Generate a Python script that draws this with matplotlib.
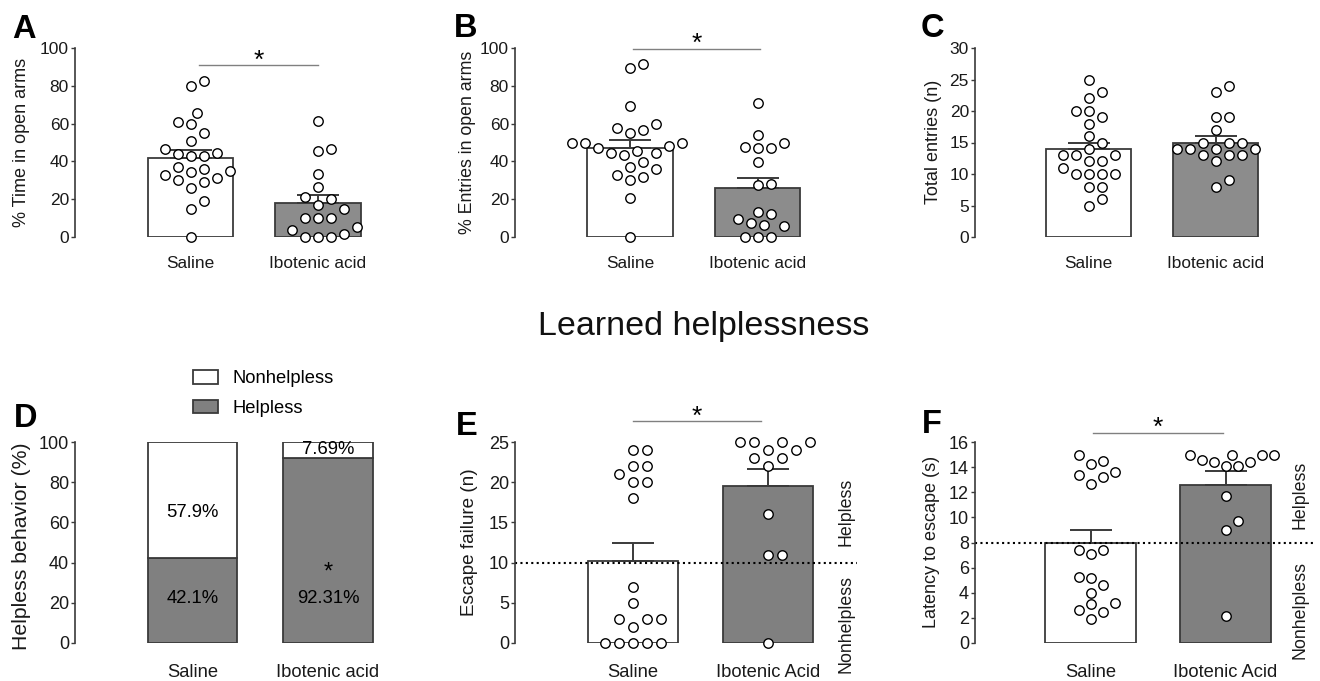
import matplotlib
matplotlib.use('Agg')
import matplotlib.pyplot as plt
import numpy as np
from matplotlib.patches import Patch

plt.rcParams['font.family'] = ['Liberation Sans', 'DejaVu Sans']

# ---------------- data ----------------
groups = ['Saline', 'Ibotenic acid']
groups_lh = ['Saline', 'Ibotenic Acid']

A_saline = [82.7, 80.1, 65.8, 60.0, 60.7, 55.2, 51.0, 46.4, 43.9, 42.7, 42.7, 44.4,
            37.0, 35.1, 34.6, 35.8, 32.6, 30.0, 29.1, 31.0, 26.1, 19.0, 15.0, 0.0]
A_ibo = [61.6, 46.4, 45.3, 33.5, 26.3, 21.0, 20.3, 15.0, 16.8, 9.9, 9.9, 10.2,
         3.7, 5.1, 0.0, 0.0, 0.0, 1.4]
A_mean = [41.6, 18.2]
A_sem = [4.3, 4.2]

B_saline = [91.4, 89.6, 69.5, 59.6, 56.4, 55.2, 57.7, 49.7, 49.7, 47.1, 48.0, 49.7,
            44.6, 43.4, 44.6, 45.7, 39.7, 37.2, 33.0, 30.3, 31.9, 35.8, 20.5, 0.0]
B_ibo = [71.1, 53.8, 47.6, 46.9, 47.3, 49.7, 39.7, 27.5, 28.2, 13.1, 9.7, 7.4,
         12.2, 6.2, 5.6, 0.0, 0.0, 0.0]
B_mean = [47.1, 25.7]
B_sem = [4.0, 5.3]

C_saline = [25, 23, 22, 20, 20, 19, 18, 16, 15, 14, 13, 13, 13, 12, 12, 11,
            10, 10, 10, 10, 8, 8, 6, 5]
C_ibo = [24, 23, 19, 19, 17, 15, 15, 15, 14, 14, 14, 14, 13, 13, 13, 12, 9, 8]
C_mean = [13.9, 15.0]
C_sem = [1.0, 1.0]

D_helpless = [42.1, 92.31]
D_nonhelpless = [57.9, 7.69]
D_legend = ['Nonhelpless', 'Helpless']

E_saline = [24, 24, 22, 22, 21, 20, 20, 18, 7, 5, 3, 3, 3, 2, 0, 0, 0, 0, 0]
E_ibo = [25, 25, 25, 25, 24, 24, 23, 23, 22, 16, 11, 11, 0]
E_mean = [10.2, 19.5]
E_sem = [2.3, 2.2]
E_threshold = 10

F_saline = [14.5, 14.24, 14.96, 13.39, 13.26, 13.6, 12.7, 7.37, 7.1, 7.37, 5.22,
            4.63, 5.14, 3.99, 3.14, 3.06, 2.61, 2.45, 1.86]
F_ibo = [14.96, 14.96, 14.46, 14.1, 14.1, 14.46, 14.6, 14.96, 14.96, 11.7, 9.69,
         8.97, 2.1]
F_mean = [7.96, 12.62]
F_sem = [1.07, 1.09]
F_threshold = 8

# ---------------- style ----------------
W, H = 1320, 681
fig = plt.figure(figsize=(W / 100, H / 100), dpi=100)
EDGE = '#3a3a3a'
FILL_TOP = '#8c8c8c'
FILL_BOT = '#808080'
PT = 0.72  # px -> pt


def make_ax(axis_x, y_top, y_bot, c0, spacing, xmax):
    xmin = -(c0 - axis_x) / spacing
    ax = fig.add_axes([axis_x / W, (H - y_bot) / H,
                       (xmax - xmin) * spacing / W, (y_bot - y_top) / H])
    ax.set_xlim(xmin, xmax)
    return ax


def style_ax(ax, ymax, yticks, xlabels, tick_fs, xlab_fs, xpad):
    ax.set_ylim(0, ymax)
    ax.set_yticks(yticks)
    for s in ('top', 'right', 'bottom'):
        ax.spines[s].set_visible(False)
    ax.spines['left'].set_color(EDGE)
    ax.spines['left'].set_linewidth(1.2)
    ax.tick_params(axis='y', direction='out', length=4 * PT, width=1.0,
                   color=EDGE, labelsize=tick_fs, pad=1.5, labelcolor='#1a1a1a')
    ax.set_xticks([0, 1])
    ax.set_xticklabels(xlabels)
    ax.tick_params(axis='x', length=0, labelsize=xlab_fs, pad=xpad,
                   labelcolor='#1a1a1a')
    ax.patch.set_alpha(0)


def swarm(ax, x0, values, dist_px, step_px):
    tr = ax.transData
    ppu = tr.transform((1, 0))[0] - tr.transform((0, 0))[0]
    ys = np.array([tr.transform((0, v))[1] for v in values])
    order = np.argsort(values, kind='stable')
    offs = np.zeros(len(values))
    placed = []
    cands = [0] + [s * j for j in range(1, 40) for s in (1, -1)]
    for i in order:
        y = ys[i]
        for c in cands:
            xo = c * step_px
            if all((xo - px) ** 2 + (y - py) ** 2 >= dist_px ** 2 for px, py in placed):
                break
        placed.append((xo, y))
        offs[i] = xo / ppu
    return x0 + offs


def bar_scatter(ax, means, sems, pts, fill, bw, cap_pt, dist_px, step_px):
    x = np.arange(2)
    ax.bar(x, means, width=bw, color=['white', fill], edgecolor=EDGE,
           linewidth=1.3, zorder=1)
    ax.errorbar(x, means, yerr=[np.zeros(2), sems], fmt='none', ecolor=EDGE,
                elinewidth=1.4, capsize=cap_pt, capthick=1.4, zorder=2)
    for xi, vals in zip(x, pts):
        xs = swarm(ax, xi, vals, dist_px, step_px)
        ax.plot(xs, vals, 'o', ls='none', ms=6.8, mfc='white', mec='black',
                mew=1.0, clip_on=False, zorder=3)


def sig(ax, x1, x2, y, star_dy_px, fs):
    ax.plot([x1, x2], [y, y], color='#808080', lw=1.0, clip_on=False, zorder=2)
    ax.annotate('*', xy=((x1 + x2) / 2, y), xytext=(0, star_dy_px * PT),
                textcoords='offset points', ha='center', va='baseline',
                fontsize=fs, annotation_clip=False)


def letter(x, y_base, s):
    fig.text(x / W, 1 - y_base / H, s, fontsize=23.5, fontweight='bold',
             ha='left', va='baseline')


def ylab(xc, yc, s, fs):
    fig.text(xc / W, 1 - yc / H, s, rotation=90, ha='center', va='center',
             fontsize=fs, color='#1a1a1a')


# ---------------- top row ----------------
top_y, bot_y = 48, 237
axA = make_ax(75, top_y, bot_y, 190.5, 127.5, 1.65)
axB = make_ax(515, top_y, bot_y, 630, 127.5, 1.65)
axC = make_ax(975, top_y, bot_y, 1088.5, 127.0, 1.65)

for ax, ymax, yt in ((axA, 100, np.arange(0, 101, 20)),
                     (axB, 100, np.arange(0, 101, 20)),
                     (axC, 30, np.arange(0, 31, 5))):
    style_ax(ax, ymax, yt, groups, 12.5, 12.4, 13.5)

bar_scatter(axA, A_mean, A_sem, [A_saline, A_ibo], FILL_TOP, 0.67, 15, 12.5, 6.5)
bar_scatter(axB, B_mean, B_sem, [B_saline, B_ibo], FILL_TOP, 0.67, 15, 12.5, 6.5)
bar_scatter(axC, C_mean, C_sem, [C_saline, C_ibo], FILL_TOP, 0.67, 15, 12.5, 6.5)

sig(axA, 0.07, 1.0, 90.8, -2, 19)
sig(axB, 0.02, 1.02, 99.5, -2, 19)

ylab(22, 142, '% Time in open arms', 13.0)
ylab(468, 142, '% Entries in open arms', 12.8)
ylab(933, 142, 'Total entries (n)', 13.0)

letter(12, 38, 'A')
letter(454, 37, 'B')
letter(921, 37, 'C')

# ---------------- title ----------------
fig.text(538 / W, 1 - 335 / H, 'Learned helplessness', fontsize=24.5,
         ha='left', va='baseline', color='#111111')

# ---------------- bottom row ----------------
top2, bot2 = 442.3, 642.7
axD = make_ax(75, top2, bot2, 192.5, 135.5, 1.6)
axE = make_ax(515, top2, bot2, 633, 135.0, 1.66)
axF = make_ax(975, top2, bot2, 1090.5, 135.0, 1.66)

style_ax(axD, 100, np.arange(0, 101, 20), groups, 13.0, 13.2, 15)
style_ax(axE, 25, np.arange(0, 26, 5), groups_lh, 13.0, 13.2, 15)
style_ax(axF, 16, np.arange(0, 17, 2), groups_lh, 13.0, 13.2, 15)

# D: stacked percentage bars
xD = np.arange(2)
axD.bar(xD, D_helpless, width=0.66, color=FILL_BOT, edgecolor=EDGE,
        linewidth=1.3, zorder=1, label=D_legend[1])
axD.bar(xD, D_nonhelpless, bottom=D_helpless, width=0.66, color='white',
        edgecolor=EDGE, linewidth=1.3, zorder=1, label=D_legend[0])
lab_fs = 13.3
axD.text(0, 64.9, f'{D_nonhelpless[0]}%', ha='center', va='center', fontsize=lab_fs)
axD.text(0, 22.1, f'{D_helpless[0]}%', ha='center', va='center', fontsize=lab_fs)
axD.text(1, 96.2, f'{D_nonhelpless[1]}%', ha='center', va='center', fontsize=lab_fs)
axD.text(1, 22.1, f'{D_helpless[1]}%', ha='center', va='center', fontsize=lab_fs)
axD.annotate('*', xy=(1, 36.3), xytext=(0, -9 * PT), textcoords='offset points',
             ha='center', va='baseline', fontsize=17)
handles = [Patch(facecolor='white', edgecolor=EDGE, linewidth=1.3),
           Patch(facecolor=FILL_BOT, edgecolor=EDGE, linewidth=1.3)]
fig.legend(handles, D_legend, loc='upper left',
           bbox_to_anchor=(193 / W, 1 - 370 / H), frameon=False, fontsize=13.2,
           handlelength=1.36, handleheight=0.76, handletextpad=0.8,
           labelspacing=0.68, borderpad=0, borderaxespad=0)

bar_scatter(axE, E_mean, E_sem, [E_saline, E_ibo], FILL_BOT, 0.667, 15, 13.5, 7)
bar_scatter(axF, F_mean, F_sem, [F_saline, F_ibo], FILL_BOT, 0.667, 15, 11.5, 6)

for ax, thr in ((axE, E_threshold), (axF, F_threshold)):
    ax.axhline(thr, color='black', ls=(0, (1, 1.6)), lw=1.5, zorder=2.5)

axE.text(1.58, 16.3, 'Helpless', rotation=90, ha='center', va='center',
         fontsize=12.8, color='#1a1a1a', clip_on=False)
axE.text(1.58, 2.3, 'Nonhelpless', rotation=90, ha='center', va='center',
         fontsize=12.8, color='#1a1a1a', clip_on=False)
axF.text(1.55, 11.8, 'Helpless', rotation=90, ha='center', va='center',
         fontsize=12.8, color='#1a1a1a', clip_on=False)
axF.text(1.55, 2.6, 'Nonhelpless', rotation=90, ha='center', va='center',
         fontsize=12.8, color='#1a1a1a', clip_on=False)

sig(axE, 0.0, 0.95, 27.6, -2, 19)
sig(axF, 0.02, 0.98, 16.77, -2, 19)

ylab(22, 546, 'Helpless behavior (%)', 15.3)
ylab(470, 542, 'Escape failure (n)', 13.6)
ylab(931, 542, 'Latency to escape (s)', 13.0)

letter(14, 427, 'D')
letter(456, 435, 'E')
letter(922, 433, 'F')

fig.savefig('out.png', dpi=100, facecolor='white')
